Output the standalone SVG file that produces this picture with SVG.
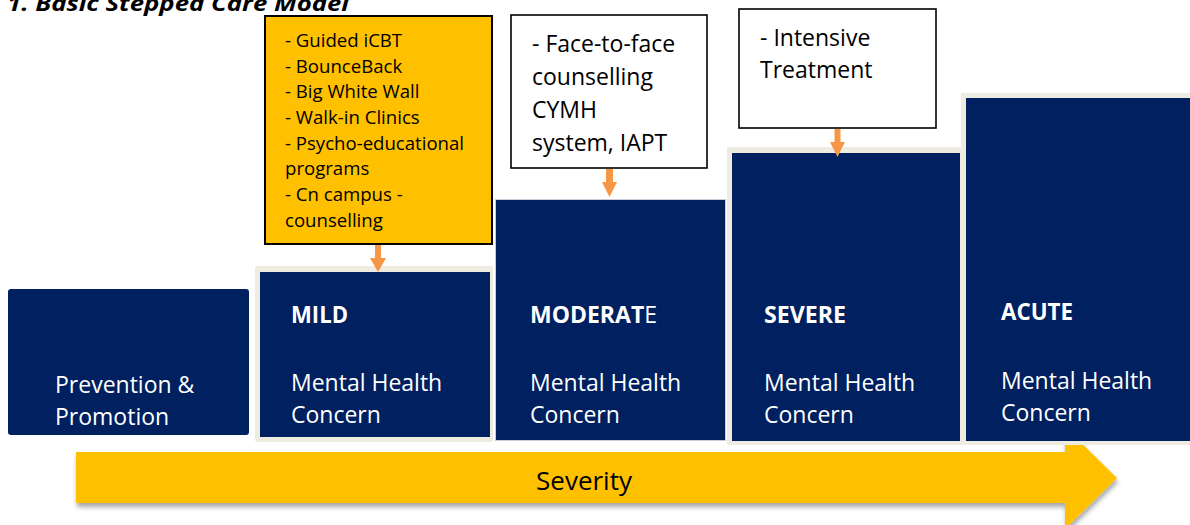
<svg xmlns="http://www.w3.org/2000/svg" width="1190" height="525" viewBox="0 0 1190 525">
  <style>
    .blk { fill: #002060; }
    .frame { fill: #EEECE1; }
    .wt { font-family: "Open Sans", "Liberation Sans", sans-serif; font-size: 23px; fill: #ffffff; }
    .hd { font-family: "Open Sans", "Liberation Sans", sans-serif; font-size: 23px; font-weight: bold; fill: #ffffff; }
    .bx { font-family: "Open Sans", "Liberation Sans", sans-serif; font-size: 23px; fill: #000000; }
    .yl { font-family: "Open Sans", "Liberation Sans", sans-serif; font-size: 18.6px; fill: #000000; }
    .note { fill: #ffffff; stroke: #000000; stroke-width: 1.6; }
    .conn { fill: #F79646; }
  </style>
  <defs>
    <filter id="soft" x="-5%" y="-30%" width="110%" height="170%">
      <feDropShadow dx="1" dy="4" stdDeviation="2.5" flood-color="#000000" flood-opacity="0.35"/>
    </filter>
  </defs>

  <rect width="1190" height="525" fill="#ffffff"/>

  <!-- heading, clipped by the top edge -->
  <text x="7" y="11" font-family="'Open Sans', 'Liberation Sans', sans-serif" font-size="22" font-weight="bold" font-style="italic" fill="#000000" textLength="342" lengthAdjust="spacingAndGlyphs">1. Basic Stepped Care Model</text>

  <!-- severity arrow -->
  <g id="severity">
    <path d="M76 452 H1065 V427 L1117 478 L1065 529 V503 H76 Z" fill="#FFC000" filter="url(#soft)"/>
    <text x="584" y="490" text-anchor="middle" font-family="'Open Sans', 'Liberation Sans', sans-serif" font-size="26" fill="#000000">Severity</text>
  </g>

  <!-- step blocks -->
  <g id="prevention">
    <rect class="blk" x="8" y="289" width="241" height="146" rx="3"/>
    <text class="wt" x="55" y="393">Prevention &amp;</text>
    <text class="wt" x="55" y="425">Promotion</text>
  </g>

  <g id="mild">
    <rect class="frame" x="255" y="266" width="238" height="176" rx="2"/>
    <rect class="blk" x="260" y="272" width="230" height="165"/>
    <text class="hd" x="291" y="323" textLength="57" lengthAdjust="spacingAndGlyphs">MILD</text>
    <text class="wt" x="291" y="391">Mental Health</text>
    <text class="wt" x="291" y="423">Concern</text>
  </g>

  <g id="moderate">
    <rect class="blk" x="495.5" y="199.5" width="230" height="241" stroke="#c9ccd6" stroke-width="1"/>
    <text class="hd" x="530" y="323" textLength="127" lengthAdjust="spacingAndGlyphs">MODERAT<tspan font-weight="normal">E</tspan></text>
    <text class="wt" x="530" y="391">Mental Health</text>
    <text class="wt" x="530" y="423">Concern</text>
  </g>

  <g id="severe">
    <rect class="frame" x="727" y="147" width="236" height="298" rx="2"/>
    <rect class="blk" x="732" y="153" width="228" height="288"/>
    <text class="hd" x="764" y="323" textLength="82" lengthAdjust="spacingAndGlyphs">SEVERE</text>
    <text class="wt" x="764" y="391">Mental Health</text>
    <text class="wt" x="764" y="423">Concern</text>
  </g>

  <g id="acute">
    <rect class="frame" x="961" y="93" width="235" height="352" rx="2"/>
    <rect class="blk" x="966" y="98" width="230" height="343"/>
    <text class="hd" x="1001" y="320" textLength="72" lengthAdjust="spacingAndGlyphs">ACUTE</text>
    <text class="wt" x="1001" y="389">Mental Health</text>
    <text class="wt" x="1001" y="421">Concern</text>
  </g>

  <!-- service notes above the blocks -->
  <g id="mild-services">
    <rect x="265" y="16" width="227" height="228" fill="#FFC000" stroke="#000000" stroke-width="2"/>
    <text class="yl" x="285" y="47">- Guided iCBT</text>
    <text class="yl" x="285" y="73">- BounceBack</text>
    <text class="yl" x="285" y="98">- Big White Wall</text>
    <text class="yl" x="285" y="124">- Walk-in Clinics</text>
    <text class="yl" x="285" y="150">- Psycho-educational</text>
    <text class="yl" x="285" y="175">programs</text>
    <text class="yl" x="285" y="201">- Cn campus -</text>
    <text class="yl" x="285" y="227">counselling</text>
  </g>

  <g id="moderate-services">
    <rect class="note" x="511" y="15" width="196" height="153"/>
    <text class="bx" x="532" y="52">- Face-to-face</text>
    <text class="bx" x="532" y="85">counselling</text>
    <text class="bx" x="532" y="118">CYMH</text>
    <text class="bx" x="532" y="151">system, IAPT</text>
  </g>

  <g id="severe-services">
    <rect class="note" x="739" y="9" width="197" height="119"/>
    <text class="bx" x="760" y="46">- Intensive</text>
    <text class="bx" x="760" y="78">Treatment</text>
  </g>

  <!-- connectors: notes to blocks -->
  <g id="connectors">
    <path class="conn" d="M375 245 H381 V258 H386 L378 272 L370 258 H375 Z"/>
    <path class="conn" d="M606 169 H613 V182 H617 L609.5 197 L602 182 H606 Z"/>
    <path class="conn" d="M834.5 129 H840.5 V142 H845 L837.5 157 L830 142 H834.5 Z"/>
  </g>
</svg>
